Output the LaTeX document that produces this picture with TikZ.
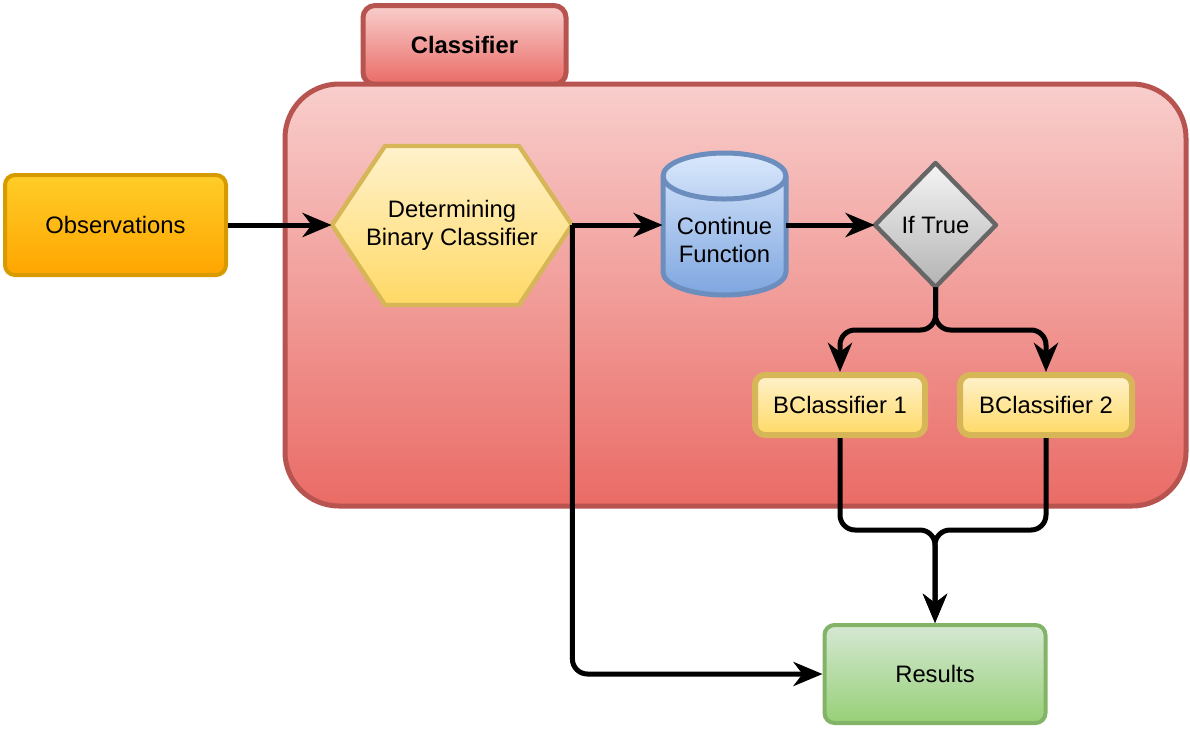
\documentclass[tikz,border=0pt]{standalone}
\usepackage{fontspec}
\setmainfont{Liberation Sans}
\usetikzlibrary{arrows.meta}
\definecolor{redT}{HTML}{F8CECC}
\definecolor{redB}{HTML}{EA6B66}
\definecolor{redS}{HTML}{B85450}
\definecolor{orT}{HTML}{FFCD28}
\definecolor{orB}{HTML}{FFA500}
\definecolor{orS}{HTML}{D79B00}
\definecolor{yeT}{HTML}{FFF2CC}
\definecolor{yeB}{HTML}{FFD966}
\definecolor{yeS}{HTML}{D6B656}
\definecolor{blT}{HTML}{DAE8FC}
\definecolor{blB}{HTML}{7EA6E0}
\definecolor{blS}{HTML}{6C8EBF}
\definecolor{grT}{HTML}{F5F5F5}
\definecolor{grB}{HTML}{B3B3B3}
\definecolor{grS}{HTML}{666666}
\definecolor{gnT}{HTML}{D5E8D4}
\definecolor{gnB}{HTML}{97D077}
\definecolor{gnS}{HTML}{82B366}
\begin{document}
\begin{tikzpicture}[x=0.5pt,y=-0.5pt,
  font=\fontsize{11.9}{14}\selectfont,
  conn/.style={line width=2.5pt, draw=black, rounded corners=7.5pt,
    -{Stealth[length=14.5pt,width=12pt,inset=4.5pt]}},
  redbox/.style={draw=redS, line width=2.5pt, top color=redT, bottom color=redB},
  orbox/.style={draw=orS, line width=2pt, top color=orT, bottom color=orB,
    rounded corners=5pt, inner sep=0pt, align=center},
  yebox/.style={draw=yeS, line width=3pt, top color=yeT, bottom color=yeB,
    rounded corners=5pt, inner sep=0pt, align=center},
  gnbox/.style={draw=gnS, line width=2pt, top color=gnT, bottom color=gnB,
    rounded corners=5pt, inner sep=0pt, align=center},
  anchorbox/.style={inner sep=0pt, align=center}]
\useasboundingbox (0,0) rectangle (1190,730);

% tab and container
\node[redbox, rounded corners=6pt, minimum width=101.5pt, minimum height=39.5pt,
  font=\fontsize{11.9}{14}\selectfont\bfseries] (tab) at (464.5,45) {Classifier};
\node[redbox, rounded corners=27pt, minimum width=450.5pt, minimum height=211pt] (cont) at (735.5,295) {};

% observations
\node[orbox, minimum width=110.5pt, minimum height=50pt] (obs) at (115.5,225) {Observations};

% hexagon
\path[draw=yeS, line width=2.2pt, top color=yeT, bottom color=yeB, line join=round]
  (332,225) -- (385,146) -- (519,146) -- (572,225) -- (519,305) -- (385,305) -- cycle;
\node[anchorbox, minimum width=120pt, minimum height=79.5pt] (hex) at (452,225)
  {Determining\\Binary Classifier};

% cylinder
\path[draw=blS, line width=2.5pt, top color=blT, bottom color=blB]
  (663,176) -- (663,272) arc (180:0:61.5 and 23) -- (786,176) arc (0:-180:61.5 and 23) -- cycle;
\draw[blS, line width=2.5pt] (663,176) arc (180:0:61.5 and 23);
\node[anchorbox, minimum width=61.5pt, minimum height=71pt] (cyl) at (724.5,225) {};
\node[anchorbox] (cyltext) at (724.5,240) {Continue\\Function};

% diamond
\path[draw=grS, line width=2.2pt, top color=grT, bottom color=grB, line join=round]
  (875,225) -- (935.5,163) -- (996,225) -- (935.5,287) -- cycle;
\node[anchorbox, minimum width=60.5pt, minimum height=62pt] (dia) at (935.5,225) {If True};

% BClassifiers
\node[yebox, minimum width=85pt, minimum height=30pt] (bc1) at (840,405) {BClassifier 1};
\node[yebox, minimum width=86pt, minimum height=30pt] (bc2) at (1046,405) {BClassifier 2};

% results
\node[gnbox, minimum width=110.5pt, minimum height=49pt] (res) at (935,674) {Results};

% junction points
\coordinate (j1) at (935.5,330);
\coordinate (j2) at (935,530);

% connectors
\draw[conn] (obs.east) -- (hex.west);
\draw[conn] (hex.east) -- (cyl.west);
\draw[conn] (hex.east) |- (res.west);
\draw[conn] (cyl.east) -- (dia.west);
\draw[conn] (dia.south) -- (j1) -| (bc1.north);
\draw[conn] (dia.south) -- (j1) -| (bc2.north);
\draw[conn] (bc1.south) |- (j2) -- (res.north);
\draw[conn] (bc2.south) |- (j2) -- (res.north);
\end{tikzpicture}
\end{document}
